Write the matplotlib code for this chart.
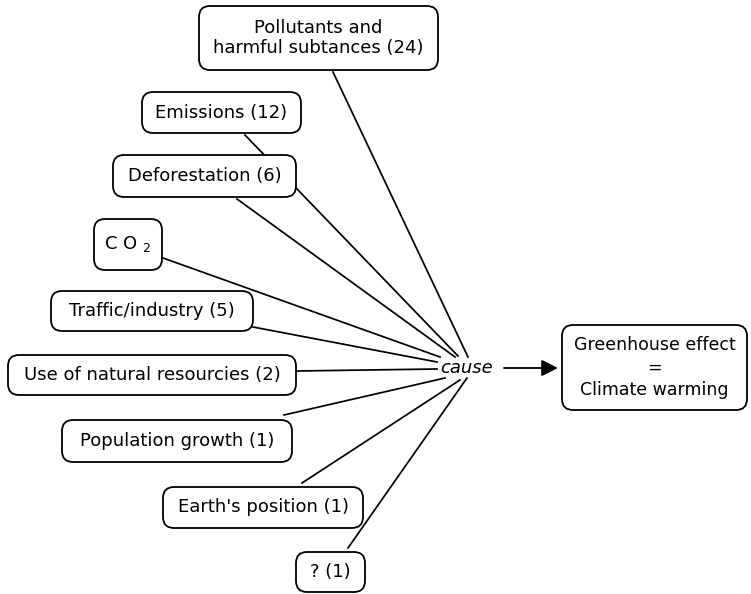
import matplotlib
matplotlib.use("Agg")
import matplotlib.pyplot as plt
from matplotlib.patches import FancyBboxPatch

plt.rcParams['font.family'] = ['DejaVu Sans']
plt.rcParams['mathtext.fontset'] = 'dejavusans'

# ---- data ----
labels = ["Pollutants and\nharmful subtances", "Emissions", "Deforestation",
          r"C O $_2$", "Traffic/industry", "Use of natural resourcies",
          "Population growth", "Earth's position", "?"]
counts = [24, 12, 6, None, 5, 2, 1, 1, 1]
hub_label = "cause"
effect_label = ["Greenhouse effect", "=", "Climate warming"]

# ---- layout (pixel space, y down) ----
boxes = [(199, 6, 438, 70), (142, 92, 301, 133), (113, 155, 296, 197),
         (94, 219, 162, 270), (51, 291, 253, 331), (8, 355, 296, 395),
         (62, 420, 292, 462), (163, 487, 363, 528), (296, 552, 365, 592)]
starts = [(333, 72), (245, 135), (237, 199), (163, 258), (253, 327),
          (297, 371), (284, 415), (302, 483), (348, 548)]
ends = [(468, 357), (458, 356), (455, 357), (440, 357), (437, 362),
        (437, 369), (445, 378), (460, 380), (467, 378)]
effect_box = (562, 325, 747, 410)

fig = plt.figure(figsize=(7.51, 5.94), dpi=100)
ax = fig.add_axes([0, 0, 1, 1])
ax.set_xlim(0, 751)
ax.set_ylim(594, 0)
ax.axis('off')


def rbox(b, text, fs=13, ls=1.2):
    x0, y0, x1, y1 = b
    p = FancyBboxPatch((x0, y0), x1 - x0, y1 - y0,
                       boxstyle="round,pad=0,rounding_size=11",
                       fc='white', ec='black', lw=1.3, zorder=2)
    ax.add_patch(p)
    ax.text((x0 + x1) / 2, (y0 + y1) / 2, text, ha='center', va='center',
            fontsize=fs, zorder=3, linespacing=ls)


for lab, n, b, s, e in zip(labels, counts, boxes, starts, ends):
    ax.plot([s[0], e[0]], [s[1], e[1]], color='black', lw=1.25, zorder=1)
    txt = lab if n is None else f"{lab} ({n})"
    rbox(b, txt)

ax.text(467, 368, hub_label, ha='center', va='center', fontsize=13,
        style='italic', zorder=3)
ax.annotate("", xy=(558, 368), xytext=(504, 368),
            arrowprops=dict(arrowstyle="-|>,head_length=1.0,head_width=0.5",
                            color='black', lw=1.3, shrinkA=0, shrinkB=0))

rbox(effect_box, "\n".join(effect_label), fs=12.5, ls=1.3)

fig.savefig("out.png", dpi=100)
